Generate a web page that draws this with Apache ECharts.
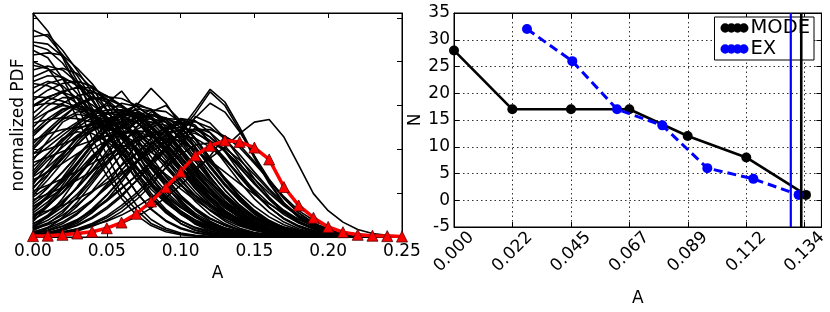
<!DOCTYPE html>
<html><head><meta charset="utf-8">
<script src="https://cdn.jsdelivr.net/npm/echarts@6/dist/echarts.min.js"></script>
<style>html,body{margin:0;padding:0;background:#fff}#c{width:830px;height:312px}</style>
</head><body><div id="c"></div>
<script>
// ---- left panel: A grid and PDF curves (y in units where 100 = one tick) ----
const A_GRID = [0.00,0.01,0.02,0.03,0.04,0.05,0.06,0.07,0.08,0.09,0.10,0.11,0.12,0.13,0.14,0.15,0.16,0.17,0.18,0.19,0.20,0.21,0.22,0.23,0.24,0.25];
const LEFT_X_LABELS = ['0.00','0.05','0.10','0.15','0.20','0.25'];

const PDF_HIGH_START = [
[510,470,410,340,262,186,122,73,40,20,9,4,1,0],
[472,457,416,356,286,216,153,102,64,38,21,11,5,2,1,0],
[457,462,426,380,330,268,205,148,100,63,37,20,10,5,2,1,0],
[438,427,397,351,295,236,180,131,90,59,37,22,13,7,3,2,1,0],
[426,409,362,300,225,160,98,62,31,16,7,3,1,0],
[415,420,415,385,350,305,250,192,138,92,57,34,19,10,5,2,1,0],
[392,384,362,327,285,238,191,147,109,78,53,35,22,13,8,4,2,1,0],
[381,390,381,353,312,262,210,160,116,80,53,33,20,11,6,3,1,0],
[365,380,385,373,340,291,234,177,125,83,52,31,17,9,4,2,1,0],
[350,345,329,304,272,235,196,158,123,92,67,47,32,21,13,8,5,3,1,0],
[327,350,360,352,326,289,242,192,145,104,72,47,29,17,10,5,3,1,0],
[312,335,350,355,344,313,269,216,163,116,78,50,30,17,9,4,2,1,0],
[297,318,333,340,333,314,284,246,206,165,128,95,67,46,30,19,11,6,3,2,1,0],
[282,310,330,342,340,322,298,265,225,182,140,102,71,46,28,17,9,5,2,1,0],
[400,385,340,270,200,140,88,50,26,12,5,2,1,0],
[340,355,345,315,268,210,152,102,63,36,19,9,4,2,1,0],
[300,320,330,318,285,238,184,133,89,55,31,16,8,3,1,0],
[270,300,318,318,302,275,240,200,160,122,89,62,41,26,16,9,5,2,1,0],
[355,368,365,345,312,270,224,178,135,98,68,45,28,17,10,5,3,1,0],
[445,440,412,368,316,262,210,162,120,86,59,39,25,15,9,5,3,1,0],
[320,318,310,296,276,252,226,198,170,143,117,94,73,55,41,29,20,13,8,5,3,1,0],
[260,268,272,270,262,250,234,215,193,170,146,122,100,79,61,46,33,23,15,10,6,3,2,1,0],
[300,305,302,290,272,268,275,262,232,192,150,110,76,50,31,18,10,5,2,1,0]
];

const PDF_MID_PEAK = [
[266,286,305,322,330,322,301,276,240,200,160,124,92,66,45,30,19,12,7,4,2,1,0],
[236,262,285,305,316,320,316,300,273,240,200,160,124,92,66,45,30,19,12,7,4,2,1,0],
[213,245,275,300,315,315,300,272,236,196,156,118,86,60,40,25,15,9,5,3,1,0],
[190,215,240,262,285,305,333,290,250,210,170,132,99,71,49,32,20,12,7,4,2,1,0],
[160,190,222,255,283,300,296,280,250,213,172,133,98,69,46,29,18,10,6,3,2,1,0],
[137,160,190,225,258,285,305,298,276,243,203,162,123,89,62,41,26,16,9,5,3,1,0],
[114,142,178,218,250,280,290,282,255,215,170,127,89,59,37,22,12,6,3,1,0],
[91,115,148,185,222,258,285,300,292,262,220,173,129,90,59,37,21,11,6,3,1,0],
[68,92,125,165,208,250,280,300,339,305,255,205,158,117,83,56,36,22,13,7,4,2,1,0],
[46,70,102,140,180,220,255,275,262,228,183,135,92,58,34,18,9,4,2,1,0],
[23,38,60,90,128,170,212,250,280,268,235,188,138,94,59,34,18,9,4,2,1,0],
[8,16,30,52,82,120,165,210,248,270,259,225,180,132,89,55,31,16,8,3,1,0],
[250,285,300,295,280,258,232,202,170,139,110,84,62,44,30,20,12,7,4,2,1,0],
[175,220,262,280,275,258,230,195,158,122,90,63,42,27,16,9,5,2,1,0],
[120,165,210,245,260,255,235,205,168,130,95,66,43,27,16,9,5,2,1,0],
[100,140,185,228,262,282,285,272,248,215,178,141,107,78,55,37,24,15,9,5,3,1,0],
[80,112,148,186,220,243,250,240,218,186,150,114,82,56,36,22,13,7,4,2,1,0],
[55,80,112,148,185,215,235,240,230,205,172,136,101,70,46,28,16,9,4,2,1,0],
[35,70,110,155,200,220,208,176,134,90,55,29,14,6,2,1,0],
[15,30,55,92,138,182,210,198,168,127,85,50,26,12,5,2,1,0],
[230,262,290,300,285,248,196,142,94,57,31,15,7,3,1,0],
[200,235,270,302,320,308,275,226,171,120,77,46,25,12,5,2,1,0],
[150,190,225,240,236,218,190,156,120,88,60,38,23,13,7,3,1,0],
[110,150,190,228,258,268,257,225,183,137,95,61,36,20,10,5,2,1,0],
[60,90,128,170,212,245,265,262,240,203,160,118,82,53,32,18,10,5,2,1,0],
[40,58,82,112,148,188,228,262,285,300,265,225,180,134,93,59,35,19,10,5,2,1,0],
[25,45,75,115,162,215,265,305,290,250,200,150,106,70,43,25,13,6,3,1,0],
[220,235,245,250,255,262,275,290,270,235,192,148,108,74,48,29,16,9,4,2,1,0],
[130,148,168,190,212,232,250,264,270,262,238,203,162,120,82,52,31,17,9,4,2,1,0],
[240,270,292,300,292,270,238,198,156,116,82,54,34,20,11,6,3,1,0],
[205,240,268,285,290,282,262,232,196,158,121,88,61,40,25,15,8,4,2,1,0],
[180,205,232,258,278,290,290,278,255,222,184,145,108,77,52,33,20,12,6,3,1,0],
[145,182,218,250,272,282,278,262,234,198,160,122,88,60,39,24,14,8,4,2,1,0],
[125,150,180,212,242,266,280,282,270,246,212,173,134,98,68,44,27,16,9,5,2,1,0],
[95,130,170,210,245,270,280,272,248,212,170,128,90,60,37,22,12,6,3,1,0],
[75,100,132,170,210,248,278,292,288,268,234,192,148,107,73,47,28,16,9,4,2,1,0],
[50,72,100,135,175,215,250,272,278,268,242,205,163,122,86,57,36,21,12,6,3,1,0],
[30,50,78,112,152,195,235,265,278,272,250,214,172,130,92,61,38,22,12,6,3,1,0],
[62,95,135,180,222,255,270,262,235,196,152,110,74,47,28,16,8,4,2,1,0],
[42,75,118,165,210,242,252,238,206,164,120,81,51,30,16,8,4,2,1,0],
[20,48,88,135,182,220,240,236,212,175,133,93,60,36,20,10,5,2,1,0],
[5,20,45,80,122,165,202,226,232,220,192,156,118,83,55,34,20,11,6,3,1,0],
[190,200,212,226,242,258,262,250,280,262,225,180,136,97,65,41,25,14,8,4,2,1,0],
[140,175,205,232,250,252,260,285,270,238,196,152,112,78,51,31,18,10,5,2,1,0],
[70,88,110,140,175,212,248,275,290,286,262,222,176,130,90,58,35,20,11,6,3,1,0]
];

const PDF_LATE_PEAK = [
[5,10,18,32,55,85,125,168,210,245,270,265,238,195,148,104,68,41,23,12,6,3,1,0],
[12,20,34,55,82,115,152,190,225,250,260,252,228,195,158,121,88,61,40,25,15,8,4,2,1,0],
[10,15,25,40,60,85,112,140,168,200,245,290,337,308,250,185,125,78,45,24,12,6,3,1,0],
[6,10,17,28,45,68,96,128,162,198,240,282,331,300,244,180,122,76,44,24,12,6,3,1,0],
[8,14,24,38,58,82,110,140,172,205,240,272,305,285,240,185,132,88,55,32,17,9,4,2,1,0],
[5,8,12,18,26,36,50,68,90,112,135,158,180,205,236,262,268,228,164,99,60,34,17,8,4,2],
[3,6,11,19,31,48,72,100,133,170,212,250,238,208,168,125,86,55,33,18,9,4,2,1,0],
[20,32,50,74,102,132,163,192,215,225,220,200,170,135,100,70,46,28,16,9,5,2,1,0],
[4,8,15,26,42,64,92,128,172,225,270,255,215,170,126,87,56,34,19,10,5,2,1,0],
[2,4,8,14,24,38,58,85,118,158,205,275,260,225,180,133,91,58,34,19,10,5,2,1,0],
[1,2,4,7,12,20,31,46,66,90,118,150,185,230,210,172,128,88,55,32,17,8,4,2,1,0],
[30,45,68,98,134,173,212,245,262,255,228,190,148,107,72,45,27,15,8,4,2,1,0],
[18,28,42,60,84,112,142,172,200,220,230,225,205,176,142,108,77,51,32,19,10,5,3,1,0],
[0,3,8,16,28,44,66,94,126,158,188,210,215,202,176,142,106,73,47,28,15,8,4,2,1,0],
[85,98,113,130,150,172,195,217,235,247,250,240,215,180,140,101,68,42,24,13,6,3,1,0],
[10,22,42,70,105,146,188,226,255,270,268,250,218,178,137,99,67,43,26,15,8,4,2,1,0],
[2,8,20,38,64,96,134,174,212,242,260,263,250,224,188,148,110,77,50,31,18,10,5,2,1,0],
[0,6,18,36,62,95,132,170,205,232,246,245,228,198,160,121,86,57,36,21,12,6,3,1,0],
[170,182,195,208,220,230,238,242,240,232,218,198,174,148,122,97,75,56,40,27,18,11,7,4,2,1],
[105,118,133,150,168,186,204,220,232,240,242,236,220,196,165,132,100,71,47,29,17,9,5,2,1,0],
[50,60,72,87,104,124,146,170,194,216,234,245,245,230,204,168,130,92,60,38,22,12,6,3,1,0]
];

const PDF_RED = [2,3,5,8,12,20,33,53,81,113,149,186,208,220,217,204,177,114,72,44,23,11,5,3,2,1];

// ---- right panel ----
const RIGHT_X_LABELS = ['0.000','0.022','0.045','0.067','0.089','0.112','0.134'];
const RIGHT_X_STEP = 0.134 / 6;
const RIGHT_X_MAX = 0.1404;
const RIGHT_N_MIN = -5;
const RIGHT_N_MAX = 35;
const MODE_A = [0.0, 0.0223, 0.0447, 0.0670, 0.0893, 0.1117, 0.1345];
const MODE_N = [28, 17, 17, 17, 12, 8, 1];
const EX_A = [0.0279, 0.0452, 0.0623, 0.0796, 0.0968, 0.1144, 0.1317];
const EX_N = [32, 26, 17, 14, 6, 4, 1];
const MODE_VLINE = 0.1327;
const EX_VLINE = 0.1287;

const FONT = 'DejaVu Sans';
const chart = echarts.init(document.getElementById('c'), null, {renderer: 'canvas'});

const pairs = (xs, ys) => ys.map((v, i) => [xs[i], v]);
const inTick = {show: true, inside: true, length: 5, lineStyle: {color: '#000', width: 1}};
const axLine = {show: true, onZero: false, lineStyle: {color: '#000', width: 1}};
const dotted = {show: true, lineStyle: {color: '#333', width: 1, type: [1.5, 3]}};

const series = [];
[PDF_HIGH_START, PDF_MID_PEAK, PDF_LATE_PEAK].forEach(group => {
  group.forEach(curve => {
    series.push({
      type: 'line', xAxisIndex: 0, yAxisIndex: 0, data: pairs(A_GRID, curve),
      symbol: 'none', silent: true, z: 2,
      lineStyle: {color: '#000', width: 1.6}
    });
  });
});
series.push({
  type: 'line', xAxisIndex: 0, yAxisIndex: 0, data: pairs(A_GRID, PDF_RED),
  symbol: 'triangle', symbolSize: 11, showAllSymbol: true, silent: true, z: 4,
  lineStyle: {color: '#ff0000', width: 3.5},
  itemStyle: {color: '#ff0000', borderColor: '#500', borderWidth: 0.8}
});
series.push({
  name: 'MODE', type: 'line', xAxisIndex: 2, yAxisIndex: 2, data: pairs(MODE_A, MODE_N),
  symbol: 'circle', symbolSize: 10, showAllSymbol: true, z: 3,
  lineStyle: {color: '#000', width: 2.6}, itemStyle: {color: '#000'}
});
series.push({
  name: 'EX', type: 'line', xAxisIndex: 2, yAxisIndex: 2, data: pairs(EX_A, EX_N),
  symbol: 'circle', symbolSize: 10, showAllSymbol: true, z: 4,
  lineStyle: {color: '#0000ff', width: 3, type: [9, 5]}, itemStyle: {color: '#0000ff'}
});
// vertical reference lines spanning the whole N range
series.push({
  type: 'line', xAxisIndex: 2, yAxisIndex: 2, silent: true, z: 5, symbol: 'none',
  data: [[EX_VLINE, RIGHT_N_MIN], [EX_VLINE, RIGHT_N_MAX]],
  lineStyle: {color: '#0000ff', width: 2.2}
});
series.push({
  type: 'line', xAxisIndex: 2, yAxisIndex: 2, silent: true, z: 5, symbol: 'none',
  data: [[MODE_VLINE, RIGHT_N_MIN], [MODE_VLINE, RIGHT_N_MAX]],
  lineStyle: {color: '#000', width: 2.6}
});

const circ = x => `M${x},4.5a4.5,4.5 0 1,0 9,0a4.5,4.5 0 1,0 -9,0Z`;
const legendIcon = 'path://' + circ(0) + circ(6) + circ(12) + circ(18);

chart.setOption({
  animation: false,
  textStyle: {fontFamily: FONT, color: '#000'},
  grid: [
    {left: 33, width: 369, top: 13, height: 224, show: true, borderColor: '#000', borderWidth: 1, backgroundColor: 'transparent'},
    {left: 454, width: 368, top: 13, height: 224, show: true, borderColor: '#000', borderWidth: 1, backgroundColor: 'transparent'}
  ],
  legend: {
    data: ['MODE', 'EX'], orient: 'vertical', right: 16, top: 17,
    backgroundColor: '#fff', borderColor: '#000', borderWidth: 1, borderRadius: 0,
    padding: [1, 4, 1, 6], itemGap: 1, itemWidth: 28, itemHeight: 10, icon: legendIcon,
    textStyle: {fontSize: 19.5, fontFamily: FONT, color: '#000', padding: [0, 0, 0, -3]},
    selectedMode: false
  },
  xAxis: [
    {gridIndex: 0, type: 'value', position: 'bottom', min: 0, max: 0.25, interval: 0.05,
     name: 'A', nameLocation: 'middle', nameGap: 23, nameTextStyle: {fontSize: 17, fontFamily: FONT, color: '#000'},
     axisLine: axLine, axisTick: inTick, splitLine: {show: false},
     axisLabel: {fontSize: 17, fontFamily: FONT, color: '#000', margin: 6,
       formatter: v => LEFT_X_LABELS[Math.round(v / 0.05)] || ''}},
    {gridIndex: 0, type: 'value', position: 'top', min: 0, max: 0.25, interval: 0.05,
     axisLine: axLine, axisTick: inTick, axisLabel: {show: false}, splitLine: {show: false}},
    {gridIndex: 1, type: 'value', position: 'bottom', min: 0, max: RIGHT_X_MAX, interval: RIGHT_X_STEP,
     name: 'A', nameLocation: 'middle', nameGap: 63, nameTextStyle: {fontSize: 17, fontFamily: FONT, color: '#000'},
     axisLine: axLine, axisTick: inTick, splitLine: dotted,
     axisLabel: {fontSize: 17, fontFamily: FONT, color: '#000', rotate: 45, align: 'center', verticalAlign: 'middle',
       margin: 25, showMaxLabel: false,
       formatter: v => {
         const k = v / RIGHT_X_STEP;
         return Math.abs(k - Math.round(k)) < 1e-3 ? (RIGHT_X_LABELS[Math.round(k)] || '') : '';
       }}},
    {gridIndex: 1, type: 'value', position: 'top', min: 0, max: RIGHT_X_MAX, interval: RIGHT_X_STEP,
     axisLine: axLine, axisTick: inTick, axisLabel: {show: false}, splitLine: {show: false}}
  ],
  yAxis: [
    {gridIndex: 0, type: 'value', position: 'left', min: 0, max: 511, interval: 100,
     name: 'normalized PDF', nameLocation: 'middle', nameGap: 6,
     nameTextStyle: {fontSize: 17, fontFamily: FONT, color: '#000'},
     axisLine: axLine, axisTick: inTick, axisLabel: {show: false}, splitLine: {show: false}},
    {gridIndex: 0, type: 'value', position: 'right', min: 0, max: 511, interval: 100,
     axisLine: axLine, axisTick: inTick, axisLabel: {show: false}, splitLine: {show: false}},
    {gridIndex: 1, type: 'value', position: 'left', min: RIGHT_N_MIN, max: RIGHT_N_MAX, interval: 5,
     name: 'N', nameLocation: 'middle', nameGap: 29,
     nameTextStyle: {fontSize: 17, fontFamily: FONT, color: '#000'},
     axisLine: axLine, axisTick: inTick, splitLine: dotted,
     axisLabel: {fontSize: 17, fontFamily: FONT, color: '#000', margin: 4}},
    {gridIndex: 1, type: 'value', position: 'right', min: RIGHT_N_MIN, max: RIGHT_N_MAX, interval: 5,
     axisLine: axLine, axisTick: inTick, axisLabel: {show: false}, splitLine: {show: false}}
  ],
  series: series
});
</script>
</body></html>
